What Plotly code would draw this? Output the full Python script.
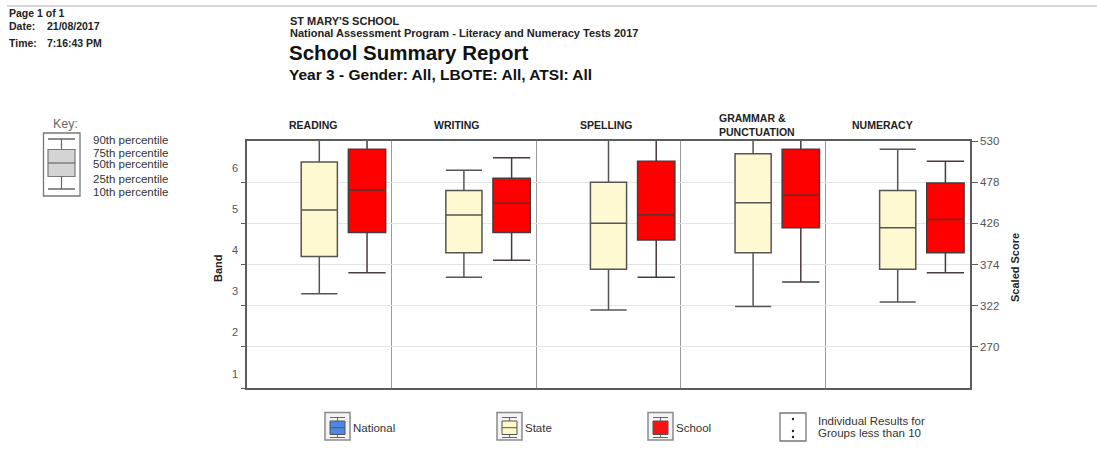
import plotly.graph_objects as go

# ---------------- data ----------------
subjects = ["READING", "WRITING", "SPELLING", "GRAMMAR &<br>PUNCTUATION", "NUMERACY"]
state_p10 = [337, 358, 316.5, 321, 326.5]
state_p25 = [384, 389, 368, 389, 368]
state_p50 = [443, 436.5, 426, 452, 420.5]
state_p75 = [503.5, 467.5, 478, 514, 467.5]
state_p90 = [548, 493, 548, 548, 519.5]
school_p10 = [363.5, 379.5, 358, 352, 363.5]
school_p25 = [414.5, 414.5, 405, 420.5, 389]
school_p50 = [468, 451.5, 436.5, 461.5, 431]
school_p75 = [519.5, 483, 504.5, 519.5, 477]
school_p90 = [548, 509, 548, 548, 504.5]
score_ticks = [270, 322, 374, 426, 478, 530]
band_labels = ["1", "2", "3", "4", "5", "6"]
key_labels = ["90th percentile", "75th percentile", "50th percentile", "25th percentile", "10th percentile"]
legend_labels = ["National", "State", "School"]

W, H = 1097, 455
L, R, T, B = 247, 127, 141, 67
PW, PH = W - L - R, H - T - B
FONT = "Liberation Sans, Arial, sans-serif"


def px(x):
    return (x - L) / PW


def py(y):
    return (H - B - y) / PH


state_pos = [i + 0.5 for i in range(len(subjects))]
school_pos = [i + 0.83 for i in range(len(subjects))]

fig = go.Figure()
fig.add_trace(go.Box(
    x=state_pos, q1=state_p25, median=state_p50, q3=state_p75,
    lowerfence=state_p10, upperfence=state_p90, width=0.25, whiskerwidth=1,
    fillcolor="#FFF9D2", line=dict(color="#555555", width=1.5),
    name="State", showlegend=False, boxpoints=False))
fig.add_trace(go.Box(
    x=school_pos, q1=school_p25, median=school_p50, q3=school_p75,
    lowerfence=school_p10, upperfence=school_p90, width=0.258, whiskerwidth=1,
    fillcolor="#FF0000", line=dict(color="#4a3a3a", width=1.5),
    name="School", showlegend=False, boxpoints=False))
fig.add_trace(go.Scatter(x=[None], y=[None], yaxis="y2", showlegend=False))
fig.add_trace(go.Scatter(x=[None], y=[None], yaxis="y3", showlegend=False))

fig.update_layout(
    width=W, height=H, margin=dict(l=L, r=R, t=T, b=B),
    paper_bgcolor="white", plot_bgcolor="white",
    font=dict(family=FONT, color="#333333"),
    xaxis=dict(range=[0, 5], tickvals=[1, 2, 3, 4], showticklabels=False, ticks="",
               showgrid=True, gridcolor="#9a9a9a", gridwidth=1.3, zeroline=False,
               showline=True, mirror=True, linecolor="#5c5c5c", linewidth=1.6),
    yaxis=dict(range=[218, 530], side="right", tickvals=score_ticks,
               ticks="outside", ticklen=6, tickcolor="#5c5c5c", tickwidth=1.3,
               tickfont=dict(size=11.5, color="#555555"),
               showgrid=True, gridcolor="#e4e4e4", gridwidth=1, zeroline=False,
               showline=True, mirror=True, linecolor="#5c5c5c", linewidth=1.6),
    yaxis2=dict(range=[0, 6], overlaying="y", side="left",
                tickvals=[i + 0.345 for i in range(6)], ticktext=band_labels,
                ticks="", ticklabelstandoff=8, tickfont=dict(size=11, color="#555555"),
                showgrid=False, zeroline=False, showline=False),
    yaxis3=dict(range=[0, 6], overlaying="y", side="left",
                tickvals=[0, 1, 2, 3, 4, 5], ticks="outside", ticklen=5,
                tickcolor="#5c5c5c", tickwidth=1.3, showticklabels=False,
                showgrid=False, zeroline=False, showline=False),
    showlegend=False,
)

ann = []


def text(x, y, s, size, bold=False, xanchor="left", color="#222222", angle=0):
    ann.append(dict(x=px(x), y=py(y), xref="paper", yref="paper", text=(f"<b>{s}</b>" if bold else s),
                    showarrow=False, xanchor=xanchor, yanchor="middle", textangle=angle,
                    font=dict(size=size, color=color, family=FONT)))


# header
text(7, 13, "Page 1 of 1", 10.5, True)
text(7, 25.5, "Date:", 10.5, True)
text(45, 25.5, "21/08/2017", 10.5, True)
text(7, 43, "Time:", 10.5, True)
text(45, 43, "7:16:43 PM", 10.5, True)
text(288, 20.5, "ST MARY'S SCHOOL", 11, True)
text(288, 33.5, "National Assessment Program - Literacy and Numeracy Tests 2017", 11, True)
text(287, 52.5, "School Summary Report", 20.5, True, color="#111111")
text(287, 75, "Year 3 - Gender: All, LBOTE: All, ATSI: All", 15.5, True, color="#111111")

# panel titles
text(313, 125, subjects[0], 10.5, True, "center")
text(457, 125, subjects[1], 10.5, True, "center")
text(606, 125, subjects[2], 10.5, True, "center")
ann.append(dict(x=px(717), y=py(125), xref="paper", yref="paper", text="<b>" + subjects[3] + "</b>",
                showarrow=False, xanchor="left", yanchor="middle", align="left",
                font=dict(size=10.5, color="#222222", family=FONT)))
text(882, 125, subjects[4], 10.5, True, "center")

# axis titles
text(218, 268, "Band", 11, True, "center", angle=-90)
text(1015, 268, "Scaled Score", 11, True, "center", angle=-90)

# key
text(65, 124, "Key:", 12.5, False, "center", color="#666666")
for lbl, yy in zip(key_labels, [140, 152.5, 163.5, 178.5, 191.5]):
    text(91, yy, lbl, 11.5, False, color="#333333")

shapes = []


def rect(x0, y0, x1, y1, line="#666666", fill="rgba(0,0,0,0)", w=1.2):
    shapes.append(dict(type="rect", xref="paper", yref="paper", x0=px(x0), x1=px(x1), y0=py(y0), y1=py(y1),
                       line=dict(color=line, width=w), fillcolor=fill, layer="above"))


def line(x0, y0, x1, y1, color="#666666", w=1.2):
    shapes.append(dict(type="line", xref="paper", yref="paper", x0=px(x0), x1=px(x1), y0=py(y0), y1=py(y1),
                       line=dict(color=color, width=w), layer="above"))


# top rule
line(7, 6, 1097, 6, "#d8d8d8", 2)

# key glyph
rect(43.5, 133, 80, 196, "#777777", "white", 1.3)
line(61.5, 139, 61.5, 149.5, "#666666")
line(61.5, 176.5, 61.5, 189, "#666666")
line(48, 139, 75, 139, "#666666", 1.5)
line(48, 189, 75, 189, "#666666", 1.5)
rect(48, 149.5, 75, 176.5, "#777777", "#d4d4d4", 1.2)
line(48, 163, 75, 163, "#666666", 1.2)

# bottom legend
legend_x = [325, 497, 648]
legend_fill = ["#4f86e6", "#FFF9C8", "#FF1010"]
for x0, fc, lbl in zip(legend_x, legend_fill, legend_labels):
    rect(x0, 412.5, x0 + 25, 440, "#8a8a8a", "#f4f4f4", 1.5)
    cx = x0 + 12.5
    line(cx, 417.5, cx, 421, "#666666", 1)
    line(cx, 434.5, cx, 437.5, "#666666", 1)
    line(x0 + 5, 417.5, x0 + 20, 417.5, "#666666", 1)
    line(x0 + 5, 437.5, x0 + 20, 437.5, "#666666", 1)
    rect(x0 + 5, 421, x0 + 20, 434.5, "#555555", fc, 1)
    line(x0 + 5, 427.7, x0 + 20, 427.7, "#555555", 1)
    text(x0 + 26, 428, lbl, 11.5, False, color="#333333")

rect(780, 413, 806, 441, "#777777", "white", 1.3)
for yy in [419, 431, 437]:
    shapes.append(dict(type="circle", xref="paper", yref="paper", x0=px(791.8), x1=px(794.2),
                       y0=py(yy - 1.2), y1=py(yy + 1.2), line=dict(width=0), fillcolor="#222222"))
text(816, 421, "Individual Results for", 11.5, False, color="#333333")
text(816, 433, "Groups less than 10", 11.5, False, color="#333333")

fig.update_layout(annotations=ann, shapes=shapes)
fig.write_html("out.html", config={"displayModeBar": False},
               post_script="document.body.style.margin='0';document.body.style.overflow='hidden';")
